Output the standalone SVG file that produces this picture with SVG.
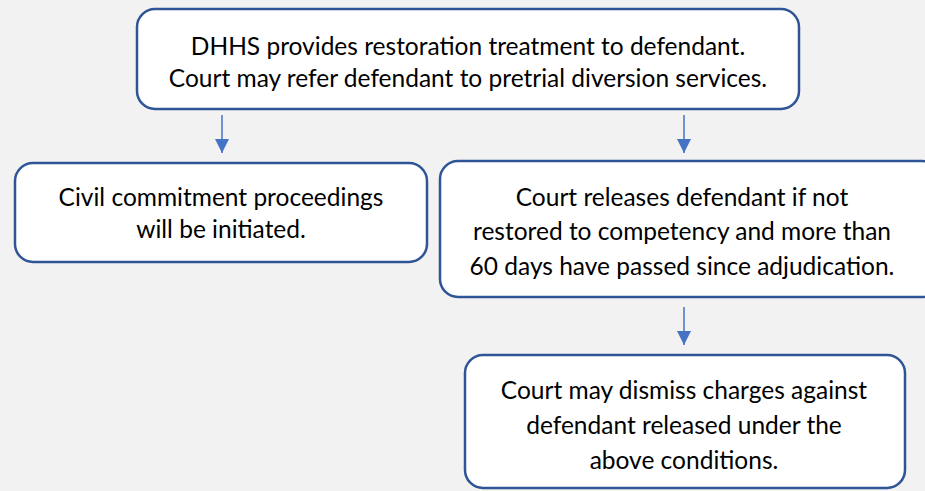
<svg xmlns="http://www.w3.org/2000/svg" width="925" height="491" viewBox="0 0 925 491">
<defs>
<style>
.box{fill:#ffffff;stroke:#2F5597;stroke-width:2.5}
.t{font-family:Lato,"Liberation Sans",sans-serif;font-size:24.5px;fill:#000;text-anchor:middle}
.c{stroke:#4472C4;stroke-width:1.5;fill:none;marker-end:url(#ah)}
</style>
<marker id="ah" markerWidth="16" markerHeight="16" refX="14" refY="7" orient="auto" markerUnits="userSpaceOnUse">
<path d="M0,0 L14,7 L0,14 Z" fill="#4472C4"/>
</marker>
</defs>
<rect width="925" height="491" fill="#f2f2f2"/>
<g id="connectors">
<line class="c" x1="222" y1="115" x2="222" y2="153"/>
<line class="c" x1="684" y1="115" x2="684" y2="153"/>
<line class="c" x1="684" y1="307" x2="684" y2="345"/>
</g>
<g id="n1">
<rect class="box" x="137" y="9" width="662" height="100" rx="18"/>
<text class="t" x="468" y="55">DHHS provides restoration treatment to defendant.</text>
<text class="t" x="468" y="87">Court may refer defendant to pretrial diversion services.</text>
</g>
<g id="n2">
<rect class="box" x="15" y="163" width="412" height="99" rx="18"/>
<text class="t" x="221" y="206">Civil commitment proceedings</text>
<text class="t" x="221" y="238">will be initiated.</text>
</g>
<g id="n3">
<rect class="box" x="440" y="161" width="500" height="136" rx="18"/>
<text class="t" x="682" y="206">Court releases defendant if not</text>
<text class="t" x="682" y="240">restored to competency and more than</text>
<text class="t" x="682" y="275">60 days have passed since adjudication.</text>
</g>
<g id="n4">
<rect class="box" x="465" y="355" width="440" height="133" rx="18"/>
<text class="t" x="684" y="399">Court may dismiss charges against</text>
<text class="t" x="684" y="434">defendant released under the</text>
<text class="t" x="684" y="469">above conditions.</text>
</g>
</svg>
